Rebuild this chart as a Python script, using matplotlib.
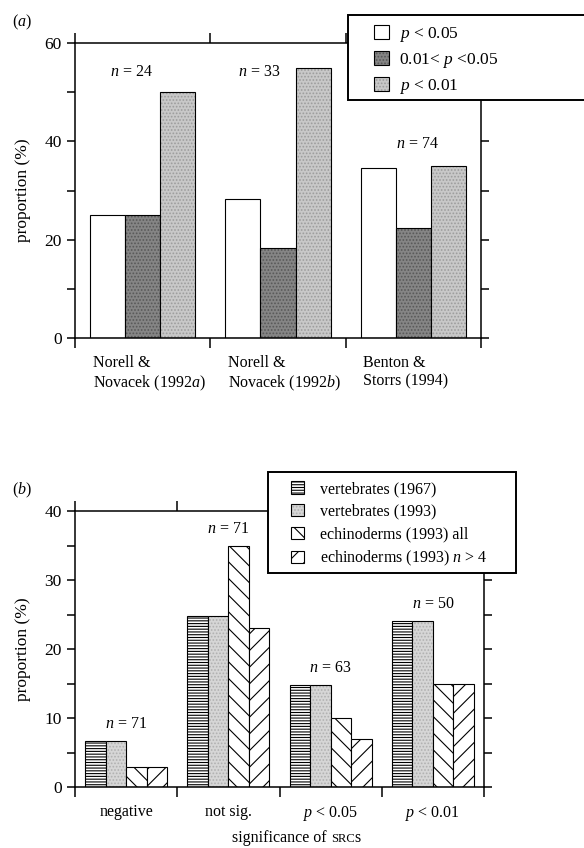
import matplotlib
matplotlib.use('Agg')
import matplotlib.pyplot as plt
import matplotlib.patches as mpatches
import numpy as np

plt.rcParams['font.family'] = ['Liberation Serif', 'DejaVu Serif']
plt.rcParams['mathtext.fontset'] = 'custom'
plt.rcParams['mathtext.rm'] = 'Liberation Serif'
plt.rcParams['mathtext.it'] = 'Liberation Serif:italic'
plt.rcParams['hatch.linewidth'] = 0.8

# ---- panel (a) data ----
a_groups = ['Norell &\nNovacek (1992$a$)', 'Norell &\nNovacek (1992$b$)',
            'Benton &\nStorrs (1994)']
a_labels = ['$p$ < 0.05', '0.01< $p$ <0.05', '$p$ < 0.01']
a_p05 = [25, 28.3, 34.5]
a_p01_05 = [25, 18.3, 22.3]
a_p01 = [50, 55, 35]
a_n = [24, 33, 74]

# ---- panel (b) data ----
b_groups = ['negative', 'not sig.', '$p$ < 0.05', '$p$ < 0.01']
b_labels = ['vertebrates (1967)', 'vertebrates (1993)',
            'echinoderms (1993) all', 'echinoderms (1993) $n$ > 4']
b_vert67 = [6.7, 24.8, 14.8, 24.0]
b_vert93 = [6.7, 24.8, 14.8, 24.0]
b_echi_all = [2.9, 35.0, 10.0, 15.0]
b_echi_n4 = [2.9, 23.0, 7.0, 15.0]
b_n = [71, 71, 63, 50]

FS = 11.5
W, H = 584, 848
fig = plt.figure(figsize=(W / 100, H / 100), dpi=100)

H_ALL = '\\\\'
H_N4 = '//'
H_HORIZ = '------'
DOTS = '.....'


def fx(px):
    return px / W


def fy(py):
    return 1 - py / H


def hatched_bars(ax, x, vals, w, face, hatch, hcol):
    ax.bar(x, vals, w, color=face, hatch=hatch, edgecolor=hcol, linewidth=0)
    ax.bar(x, vals, w, fill=False, edgecolor='black', linewidth=0.8)


def style_axes(ax, ngroups, ymax, major, minor):
    ax.set_xlim(-0.5, ngroups - 0.5)
    ax.set_ylim(0, ymax)
    ax.set_yticks(np.arange(0, ymax + 0.1, major))
    ax.set_yticks(np.arange(minor, ymax, major), minor=True)
    ax.set_xticks(np.arange(ngroups + 1) - 0.5, minor=True)
    for s in ax.spines.values():
        s.set_linewidth(1.1)
    ax.tick_params(axis='y', which='both', left=True, right=True,
                   direction='out', length=6, width=1.1, labelsize=FS + 1)
    ax.tick_params(axis='x', which='minor', top=True, bottom=True,
                   direction='out', length=7, width=1.1)
    ax.tick_params(axis='x', which='major', length=0, labelsize=FS, pad=12)
    ax.set_ylabel('proportion (%)', fontsize=FS + 1, labelpad=10)


# ---------------- panel (a) ----------------
ax1 = fig.add_axes([fx(75), fy(338), fx(481 - 75), (338 - 43) / H])
x = np.arange(len(a_groups))
w = 0.26
hatched_bars(ax1, x - w, a_p05, w, 'white', None, 'black')
hatched_bars(ax1, x, a_p01_05, w, '#858585', DOTS, '#585858')
hatched_bars(ax1, x + w, a_p01, w, '#c8c8c8', DOTS, '#9c9c9c')
style_axes(ax1, len(a_groups), 60, 20, 10)
ax1.set_xticks(x - 1.5 * w + 0.02, a_groups, ha='left')

# n labels (position of each label in data coords)
a_npos = [(-0.08, 54), (0.86, 54), (2.03, 39.5)]
for (px, py), n in zip(a_npos, a_n):
    ax1.text(px, py, f'$n$ = {n}', ha='center', va='center', fontsize=FS)

fig.text(fx(12), fy(22), '($a$)', fontsize=FS, va='center')

# legend (a) with manual frame
fig.patches.append(mpatches.Rectangle((fx(348), fy(100)), 0.5, 85 / H,
                                      transform=fig.transFigure,
                                      facecolor='white', edgecolor='black',
                                      linewidth=1.4, zorder=5))
ha = [
    (mpatches.Patch(facecolor='white', edgecolor='black', linewidth=0.8),),
    (mpatches.Patch(facecolor='#858585', hatch=DOTS, edgecolor='#585858', linewidth=0),
     mpatches.Patch(fill=False, edgecolor='black', linewidth=0.8)),
    (mpatches.Patch(facecolor='#c8c8c8', hatch=DOTS, edgecolor='#9c9c9c', linewidth=0),
     mpatches.Patch(fill=False, edgecolor='black', linewidth=0.8)),
]
leg = fig.legend(ha, a_labels, loc='upper left',
                 bbox_to_anchor=(fx(374), fy(25)), frameon=False,
                 fontsize=FS + 1, handlelength=0.85, handleheight=0.85,
                 handletextpad=0.6, labelspacing=0.4, borderpad=0,
                 borderaxespad=0)
leg.set_zorder(6)

# ---------------- panel (b) ----------------
ax2 = fig.add_axes([fx(75), fy(787), fx(484 - 75), (787 - 511) / H])
x = np.arange(len(b_groups))
w = 0.2
hatched_bars(ax2, x - 1.5 * w, b_vert67, w, 'white', H_HORIZ, 'black')
hatched_bars(ax2, x - 0.5 * w, b_vert93, w, '#d6d6d6', DOTS, '#b0b0b0')
hatched_bars(ax2, x + 0.5 * w, b_echi_all, w, 'white', H_ALL, 'black')
hatched_bars(ax2, x + 1.5 * w, b_echi_n4, w, 'white', H_N4, 'black')
style_axes(ax2, len(b_groups), 40, 10, 5)
ax2.set_xticks(x, b_groups)

tops = np.max([b_vert67, b_vert93, b_echi_all, b_echi_n4], axis=0)
for xi, t, n in zip(x, tops, b_n):
    ax2.text(xi, t + 1.3, f'$n$ = {n}', ha='center', va='bottom', fontsize=FS)

fig.text(fx(12), fy(490), '($b$)', fontsize=FS, va='center')

fig.patches.append(mpatches.Rectangle((fx(268), fy(573)), fx(516 - 268),
                                      (573 - 472) / H,
                                      transform=fig.transFigure,
                                      facecolor='white', edgecolor='black',
                                      linewidth=1.4, zorder=5))
hb = [
    (mpatches.Patch(facecolor='white', hatch=H_HORIZ, edgecolor='black', linewidth=0.8),),
    (mpatches.Patch(facecolor='#d6d6d6', hatch=DOTS, edgecolor='#b0b0b0', linewidth=0),
     mpatches.Patch(fill=False, edgecolor='black', linewidth=0.8)),
    (mpatches.Patch(facecolor='white', hatch=H_ALL, edgecolor='black', linewidth=0.8),),
    (mpatches.Patch(facecolor='white', hatch=H_N4, edgecolor='black', linewidth=0.8),),
]
leg2 = fig.legend(hb, b_labels, loc='upper left',
                  bbox_to_anchor=(fx(291), fy(481)), frameon=False,
                  fontsize=FS, handlelength=0.8, handleheight=0.8,
                  handletextpad=1.0, labelspacing=0.42, borderpad=0,
                  borderaxespad=0)
leg2.set_zorder(6)

# x label with small-caps "SRC"
base_y = fy(842)
t1 = fig.text(fx(232), base_y, 'significance of ', fontsize=FS, va='baseline')
fig.canvas.draw()
bb = t1.get_window_extent()
t2 = fig.text(bb.x1 / W, base_y, 'SRC', fontsize=FS * 0.78, va='baseline')
fig.canvas.draw()
bb2 = t2.get_window_extent()
fig.text(bb2.x1 / W, base_y, 's', fontsize=FS, va='baseline')

fig.savefig('out.png', dpi=100)
